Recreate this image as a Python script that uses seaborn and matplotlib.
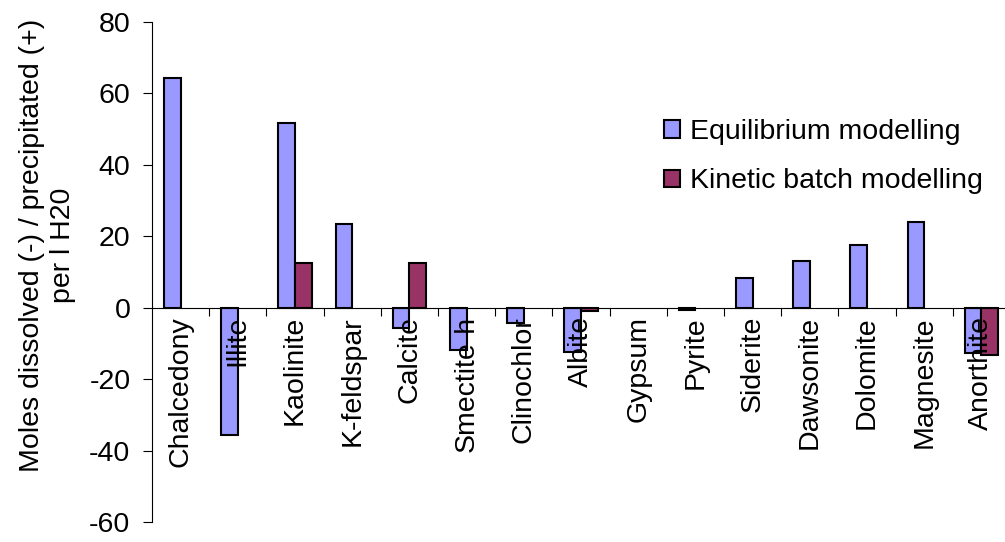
import matplotlib
matplotlib.use("Agg")
import matplotlib.pyplot as plt
import numpy as np
import pandas as pd
import seaborn as sns
from matplotlib.patches import Patch

# Mineral phases and modelled mass transfer (moles per l H2O)
minerals = ["Chalcedony", "Illite", "Kaolinite", "K-feldspar", "Calcite",
            "Smectite-h", "Clinochlor", "Albite", "Gypsum", "Pyrite",
            "Siderite", "Dawsonite", "Dolomite", "Magnesite", "Anorthite"]
equilibrium = [64.3, -35.7, 51.8, 23.3, -5.6, -11.9, -4.4, -12.5, 0.0, -0.7,
               8.3, 13.2, 17.6, 24.0, -12.7]
kinetic = [0.0, 0.0, 12.6, 0.0, 12.6, 0.0, 0.0, -0.8, 0.0, 0.0,
           0.0, 0.0, 0.0, 0.0, -13.3]
series_names = ["Equilibrium modelling", "Kinetic batch modelling"]
series_colors = ["#9999FF", "#993366"]
y_ticks = [-60, -40, -20, 0, 20, 40, 60, 80]

df = pd.DataFrame({
    "mineral": minerals * 2,
    "value": equilibrium + kinetic,
    "series": [series_names[0]] * len(minerals) + [series_names[1]] * len(minerals),
})

sns.set_style("white")
plt.rcParams["font.family"] = ["Liberation Sans", "DejaVu Sans"]
plt.rcParams["axes.unicode_minus"] = False
for key in ["text.color", "axes.labelcolor", "xtick.color", "ytick.color",
            "xtick.labelcolor", "ytick.labelcolor"]:
    plt.rcParams[key] = "black"
FS = 20.5

fig = plt.figure(figsize=(10.05, 5.42), dpi=100)
ax = fig.add_axes([152 / 1005, 1 - 522 / 542, 858 / 1005, 500 / 542])

sns.barplot(data=df, x="mineral", y="value", hue="series",
            order=minerals, hue_order=series_names, palette=series_colors,
            saturation=1, width=0.58, edgecolor="black", linewidth=1.5,
            legend=False, ax=ax)

# hide empty (zero) bars
for p in ax.patches:
    if abs(p.get_height()) < 1e-9:
        p.set_visible(False)

ax.set_ylim(-60, 80)
ax.set_xlim(-0.5, len(minerals) - 0.5)
ax.set_yticks(y_ticks)
ax.set_xlabel("")
ax.set_ylabel("")

for s in ["top", "right"]:
    ax.spines[s].set_visible(False)
ax.spines["bottom"].set_position(("data", 0))
for s in ["left", "bottom"]:
    ax.spines[s].set_linewidth(0.8)
    ax.spines[s].set_color("black")
ax.set_axisbelow(False)

ax.tick_params(axis="y", direction="out", length=6.5, width=0.8, pad=9,
               labelsize=FS, color="black", left=True)
ax.set_xticks(range(len(minerals)))
ax.set_xticklabels(minerals, rotation=90, va="top", ha="center", fontsize=FS)
ax.tick_params(axis="x", which="major", length=0, pad=6, bottom=True)
ax.set_xticks(np.arange(0.5, len(minerals) - 0.5, 1.0), minor=True)
ax.tick_params(axis="x", which="minor", direction="out", length=5.5,
               width=0.8, color="black", bottom=True)

fig.text(48 / 1005, 1 - 245 / 542,
         "Moles dissolved (-) / precipitated (+)\nper l H20",
         rotation=90, ha="center", va="center", fontsize=FS,
         multialignment="center", linespacing=1.25)

handles = [Patch(facecolor=c, edgecolor="black", linewidth=1.5) for c in series_colors]
fig.legend(handles, series_names, loc="upper left",
           bbox_to_anchor=(664 / 1005, 1 - 119 / 542), frameon=False,
           fontsize=FS, handlelength=0.55, handleheight=0.55,
           handletextpad=0.35, labelspacing=0.82, borderpad=0,
           borderaxespad=0)

fig.savefig("out.png", dpi=100)
